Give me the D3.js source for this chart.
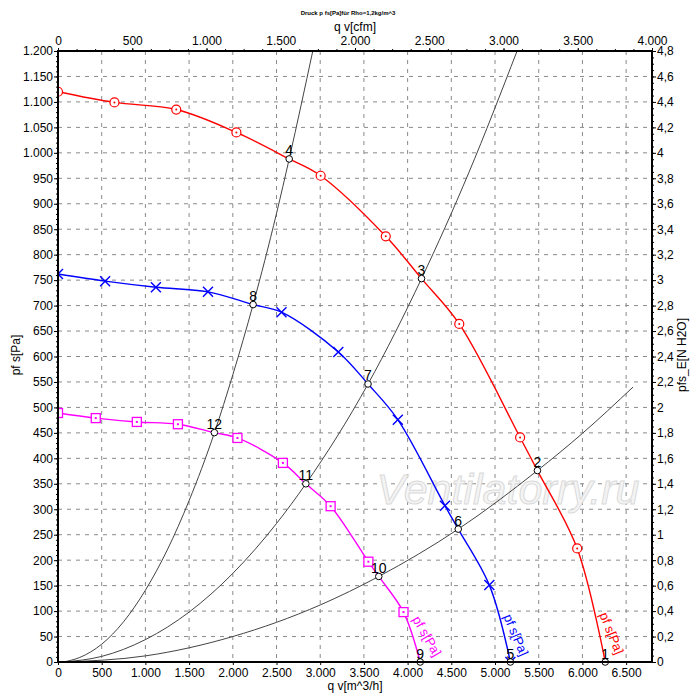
<!DOCTYPE html>
<html>
<head>
<meta charset="utf-8">
<script src="https://cdn.jsdelivr.net/npm/d3@7"></script>
<style>
  body { margin: 0; background: #fff; }
  svg text { font-family: "Liberation Sans", Arial, sans-serif; }
</style>
</head>
<body>
<div id="container"></div>
<script>
// fan curves, [q m^3/h, pf s Pa]
let redCurve = [[0,1120],[646,1099],[1353,1085],[2041,1040],[2645,988],[3005,955],[3750,836],[4159,753],[4591,664],[5287,441],[5485,376],[5940,223],[6261,0]];
let blueCurve = [[0,762],[539,748],[1120,736],[1716,727],[2232,702],[2557,687],[3207,609],[3547,546],[3888,476],[4427,307],[4579,261],[4935,151],[5176,0]];
let magentaCurve = [[0,489],[432,479],[902,471.5],[1372,467],[1789,450.5],[2053,440],[2573,391],[2836,350],[3119,306],[3551,197],[3670,168],[3953,98],[4144,0]];

// marker positions on each fan curve
let redMarks = [[0,1120],[646,1099],[1353,1085],[2041,1040],[3005,955],[3750,836],[4591,664],[5287,441],[5940,223]];
let blueMarks = [[0,762],[539,748],[1120,736],[1716,727],[2557,687],[3207,609],[3888,476],[4427,307],[4935,151],[5176,0]];
let magentaMarks = [[0,489],[432,479],[902,471.5],[1372,467],[2053,440],[2573,391],[3119,306],[3551,197],[3953,98]];

// system curves
let sysA = [[60,0],[250,9],[500,35],[750,79],[1000,141],[1250,220],[1500,317],[1789,450],[2000,564],[2232,702],[2500,881],[2645,988],[2915,1200]];
let sysB = [[60,0],[500,11],[1000,44],[1500,98],[2000,174],[2500,272],[2836,350],[3547,546],[4159,753],[4700,961],[5252,1200]];
let sysC = [[60,0],[1000,12],[2000,50],[3000,112],[3670,168],[4579,261],[5485,376],[6000,449],[6579,540]];

// operating points
let opLabels = ["1","2","3","4","5","6","7","8","9","10","11","12"];
let opPoints = [[6261,0],[5485,376],[4159,753],[2645,988],[5176,0],[4579,261],[3547,546],[2232,702],[4144,0],[3670,168],[2836,350],[1789,450.5]];

let qTicks = [0,500,1000,1500,2000,2500,3000,3500,4000,4500,5000,5500,6000,6500];
let cfmTicks = [0,500,1000,1500,2000,2500,3000,3500,4000];
let paTicks = d3.range(0, 1201, 50);
let inTicks = d3.range(0, 4.81, 0.2);

let width = 700, height = 700;
let mLeft = 58, mRight = 652, mTop = 51, mBottom = 662;

let loc = d3.formatLocale({decimal: ",", thousands: ".", grouping: [3], currency: ["", ""]});
let fmtInt = loc.format(",");
let fmtDec = loc.format(".2~f");

let x = d3.scaleLinear().domain([0, 6796]).range([mLeft, mRight]);
let xTop = d3.scaleLinear().domain([0, 4000]).range([mLeft, mRight]);
let y = d3.scaleLinear().domain([0, 1200]).range([mBottom, mTop]);
let yRight = d3.scaleLinear().domain([0, 4.8]).range([mBottom, mTop]);

let svg = d3.select('#container').append('svg')
    .attr('width', width).attr('height', height);

svg.append('defs').append('clipPath').attr('id', 'plot')
    .append('rect').attr('x', mLeft).attr('y', mTop)
    .attr('width', mRight - mLeft).attr('height', mBottom - mTop);

// grid
let grid = svg.append('g');
qTicks.filter(d => d > 0).forEach(function(d) {
    grid.append('line').attr('x1', x(d)).attr('x2', x(d)).attr('y1', mTop).attr('y2', mBottom)
        .attr('stroke', '#8a8a8a').attr('stroke-dasharray', '4,5');
});
paTicks.filter(d => d > 0 && d < 1200).forEach(function(d) {
    grid.append('line').attr('x1', mLeft).attr('x2', mRight).attr('y1', y(d)).attr('y2', y(d))
        .attr('stroke', '#8a8a8a').attr('stroke-dasharray', '4,5');
});

// watermark
svg.append('text').attr('x', 508).attr('y', 504).attr('text-anchor', 'middle')
    .attr('font-size', 43).attr('font-style', 'italic')
    .attr('fill', '#f4f4f4').attr('stroke', '#dadada').attr('stroke-width', 1)
    .text('Ventilatorry.ru');

let plot = svg.append('g').attr('clip-path', 'url(#plot)');
let sysLine = d3.line().x(d => x(d[0])).y(d => y(d[1])).curve(d3.curveMonotoneX);
let fanLine = d3.line().x(d => x(d[0])).y(d => y(d[1])).curve(d3.curveCatmullRom.alpha(0.5));

[sysA, sysB, sysC].forEach(function(s) {
    plot.append('path').datum(s).attr('d', sysLine)
        .attr('fill', 'none').attr('stroke', '#444').attr('stroke-width', 1);
});

let fans = [
    {data: redCurve, marks: redMarks, color: '#ff0000', shape: 'circle'},
    {data: blueCurve, marks: blueMarks, color: '#0000ff', shape: 'x'},
    {data: magentaCurve, marks: magentaMarks, color: '#ff00ff', shape: 'square'}
];

fans.forEach(function(f) {
    plot.append('path').datum(f.data).attr('d', fanLine)
        .attr('fill', 'none').attr('stroke', f.color).attr('stroke-width', 1.4);
    let g = plot.append('g');
    f.marks.forEach(function(m) {
        let cx = x(m[0]), cy = y(m[1]);
        if (f.shape == 'circle') {
            g.append('circle').attr('cx', cx).attr('cy', cy).attr('r', 4.5)
                .attr('fill', '#fff').attr('stroke', f.color).attr('stroke-width', 1.2);
            g.append('circle').attr('cx', cx).attr('cy', cy).attr('r', 1).attr('fill', f.color);
        } else if (f.shape == 'x') {
            g.append('path').attr('d', `M${cx-5},${cy-5}L${cx+5},${cy+5}M${cx-5},${cy+5}L${cx+5},${cy-5}`)
                .attr('stroke', f.color).attr('stroke-width', 1.4);
        } else {
            g.append('rect').attr('x', cx - 4.5).attr('y', cy - 4.5).attr('width', 9).attr('height', 9)
                .attr('fill', '#fff').attr('stroke', f.color).attr('stroke-width', 1.3);
            g.append('rect').attr('x', cx - 1).attr('y', cy - 1).attr('width', 2).attr('height', 2).attr('fill', f.color);
        }
    });
});

// curve labels
let curveLabels = [
    {x: 598, y: 615, rot: 68, color: '#ff0000'},
    {x: 502, y: 617, rot: 67, color: '#0000ff'},
    {x: 411, y: 620, rot: 60, color: '#ff00ff'}
];
curveLabels.forEach(function(c) {
    svg.append('text').attr('transform', `translate(${c.x},${c.y}) rotate(${c.rot})`)
        .attr('font-size', 13).attr('fill', c.color).attr('dy', '-0.1em').text('pf s[Pa]');
});

// operating points
let ops = svg.append('g');
opPoints.forEach(function(p, i) {
    ops.append('circle').attr('cx', x(p[0])).attr('cy', y(p[1])).attr('r', 3.3)
        .attr('fill', '#fff').attr('stroke', '#000').attr('stroke-width', 1);
    ops.append('text').attr('x', x(p[0])).attr('y', y(p[1]) - 3.5)
        .attr('text-anchor', 'middle').attr('font-size', 14).text(opLabels[i]);
});

// axes
function styleAxis(g) {
    g.select('.domain').remove();
    g.selectAll('.tick line').attr('stroke', '#000');
    g.selectAll('.tick text').attr('font-size', 12).attr('fill', '#000')
        .attr('font-family', '"Liberation Sans", Arial, sans-serif');
}

svg.append('g').attr('transform', `translate(${mLeft},0)`)
    .call(d3.axisLeft(y).tickValues(d3.range(0, 1201, 10)).tickSize(2).tickFormat(''))
    .call(styleAxis);
svg.append('g').attr('transform', `translate(${mLeft},0)`)
    .call(d3.axisLeft(y).tickValues(paTicks).tickSize(4).tickPadding(1).tickFormat(fmtInt))
    .call(styleAxis);

svg.append('g').attr('transform', `translate(${mRight},0)`)
    .call(d3.axisRight(yRight).tickValues(d3.range(0, 4.81, 0.05)).tickSize(2).tickFormat(''))
    .call(styleAxis);
svg.append('g').attr('transform', `translate(${mRight},0)`)
    .call(d3.axisRight(yRight).tickValues(inTicks).tickSize(4).tickPadding(1).tickFormat(fmtDec))
    .call(styleAxis);

svg.append('g').attr('transform', `translate(0,${mBottom})`)
    .call(d3.axisBottom(x).tickValues(qTicks).tickSize(3).tickPadding(3).tickFormat(fmtInt))
    .call(styleAxis);

svg.append('g').attr('transform', `translate(0,${mTop})`)
    .call(d3.axisTop(xTop).tickValues(d3.range(0, 4001, 125)).tickSize(2).tickFormat(''))
    .call(styleAxis);
svg.append('g').attr('transform', `translate(0,${mTop})`)
    .call(d3.axisTop(xTop).tickValues(cfmTicks).tickSize(3).tickPadding(3).tickFormat(fmtInt))
    .call(styleAxis);

// frame
svg.append('rect').attr('x', mLeft).attr('y', mTop).attr('width', mRight - mLeft).attr('height', mBottom - mTop)
    .attr('fill', 'none').attr('stroke', '#000').attr('stroke-width', 2);

// titles
svg.append('text').attr('x', 348).attr('y', 15).attr('text-anchor', 'middle')
    .attr('font-size', 6).attr('font-weight', 'bold').text('Druck p fs[Pa]für Rho=1,2kg/m^3');
svg.append('text').attr('x', 355).attr('y', 31).attr('text-anchor', 'middle')
    .attr('font-size', 12).text('q v[cfm]');
svg.append('text').attr('x', 355).attr('y', 690).attr('text-anchor', 'middle')
    .attr('font-size', 12).text('q v[m^3/h]');
svg.append('text').attr('transform', 'translate(20,355) rotate(-90)').attr('text-anchor', 'middle')
    .attr('font-size', 12).text('pf s[Pa]');
svg.append('text').attr('transform', 'translate(686,355) rotate(-90)').attr('text-anchor', 'middle')
    .attr('font-size', 12).text('pfs_E[N H2O]');
</script>
</body>
</html>
